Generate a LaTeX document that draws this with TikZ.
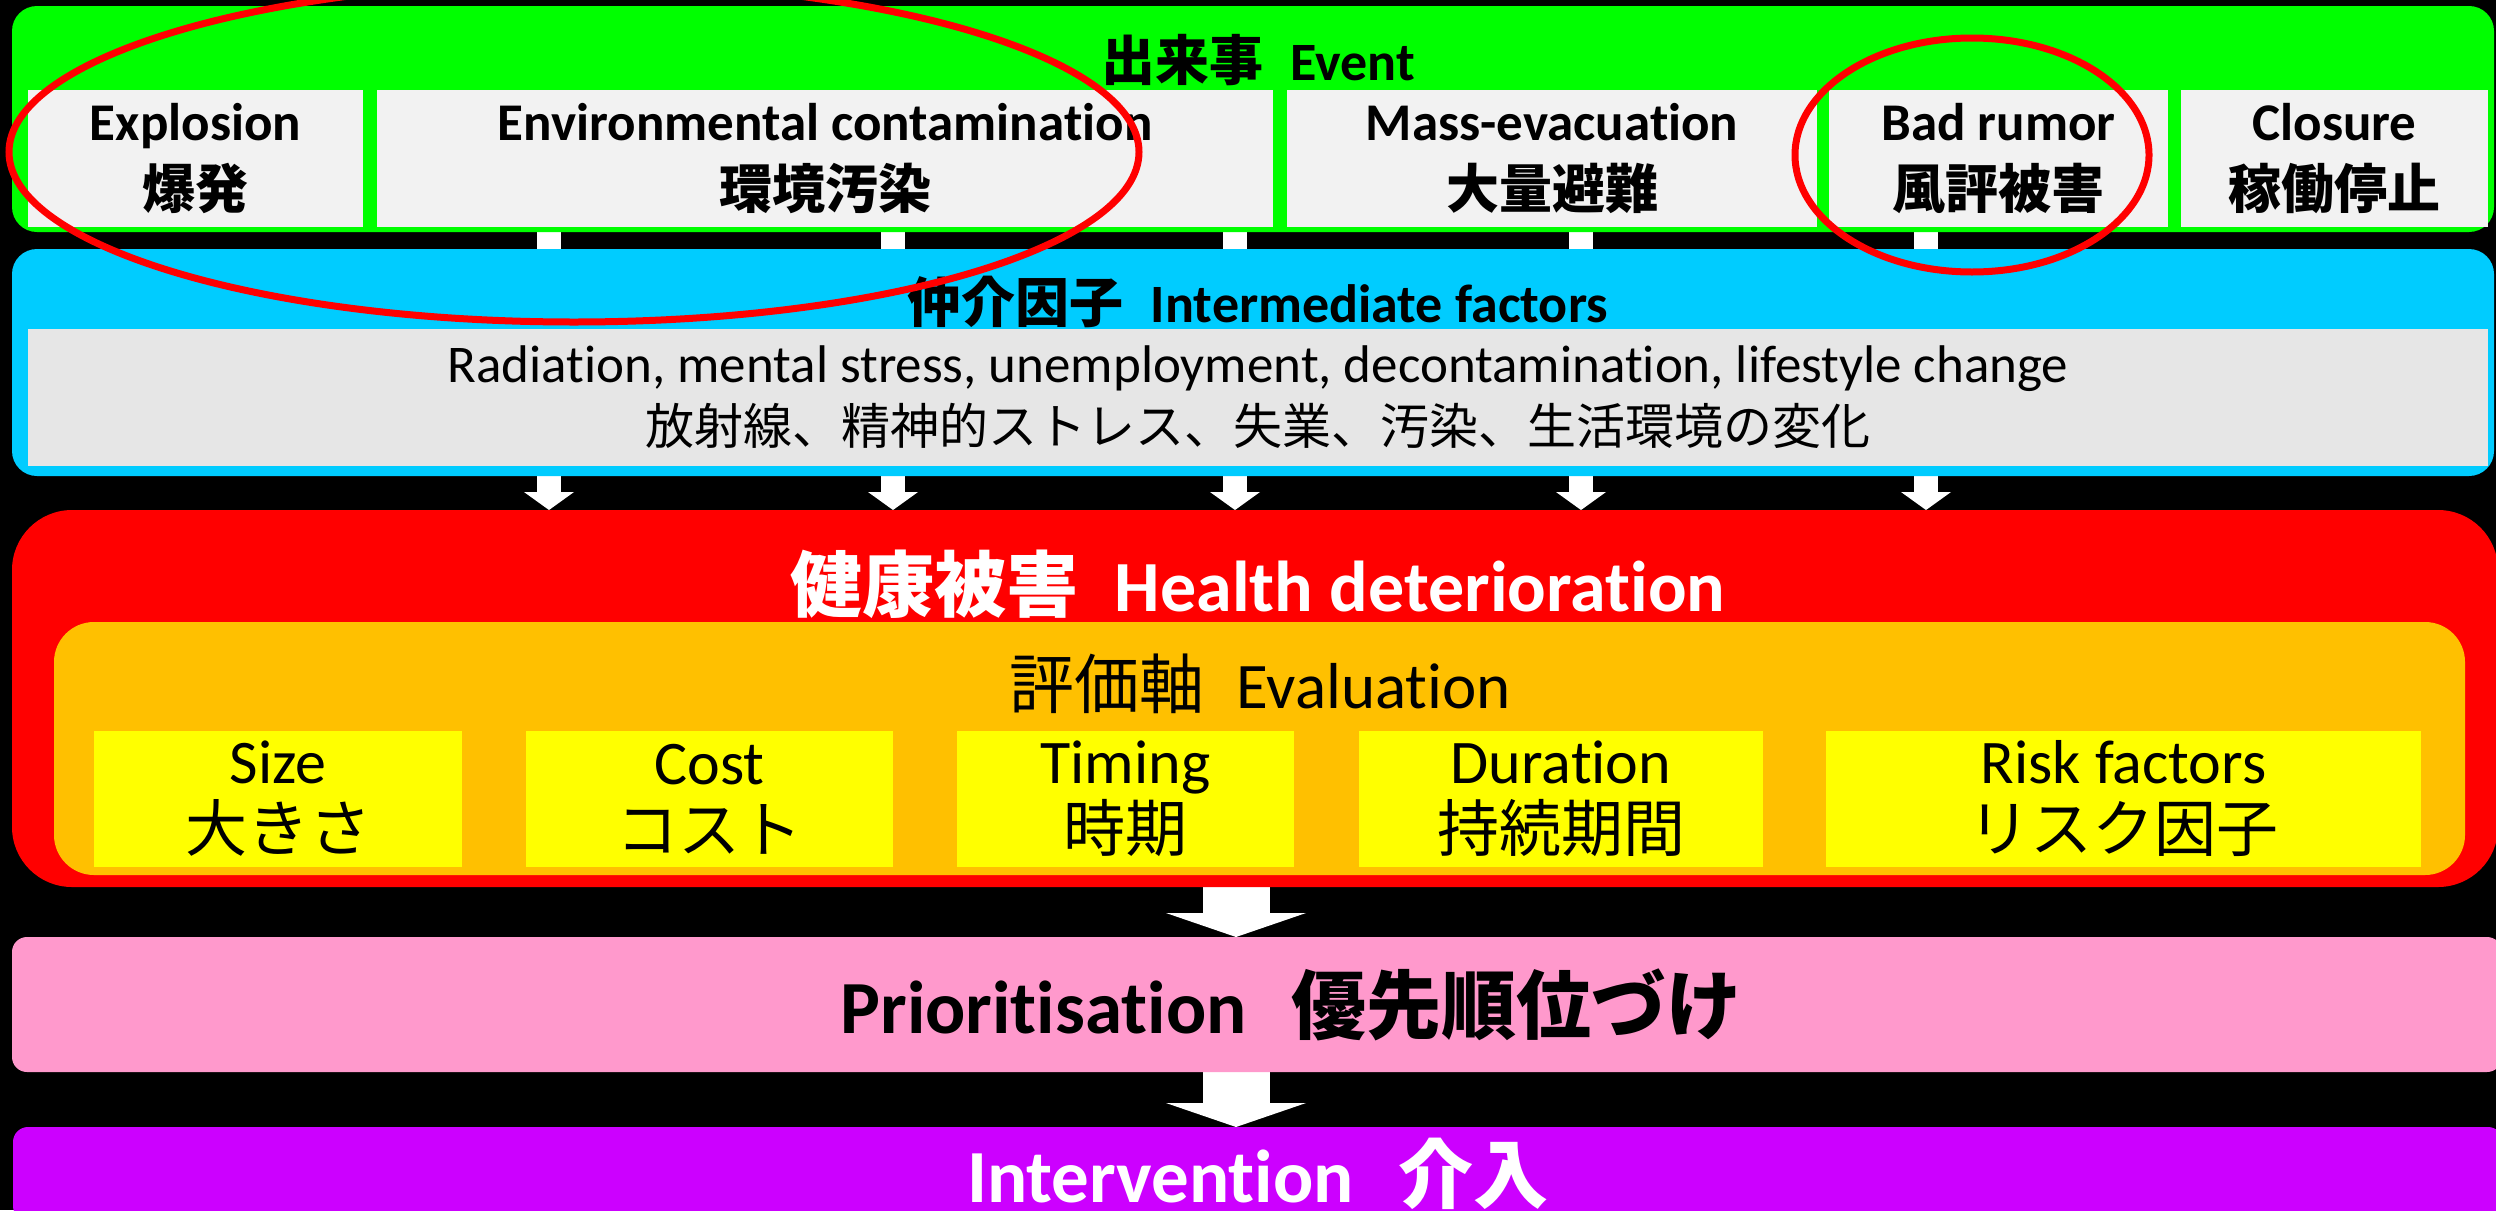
\documentclass[tikz,border=0pt]{standalone}
\usepackage{fontspec}
\setmainfont{Carlito}[Ligatures=NoCommon]
\newfontfamily\cjk{Noto Sans CJK JP}
\usetikzlibrary{arrows.meta}
\pgfdeclarelayer{bottom}
\pgfdeclarelayer{back}
\pgfsetlayers{bottom,back,main}
\definecolor{evgreen}{HTML}{00FF00}
\definecolor{midblue}{HTML}{00CCFF}
\definecolor{evgray}{HTML}{F2F2F2}
\definecolor{midgray}{HTML}{E6E6E6}
\definecolor{hred}{HTML}{FF0000}
\definecolor{evorange}{HTML}{FFC000}
\definecolor{evyellow}{HTML}{FFFF00}
\definecolor{prpink}{HTML}{FF99CC}
\definecolor{intpurple}{HTML}{CC00FF}
\tikzset{
  box/.style={inner sep=0pt, outer sep=0pt, anchor=north west, align=center},
  evbox/.style={box, fill=evgray, font=\fontsize{53}{68}\selectfont\bfseries},
  ybox/.style={box, fill=evyellow, minimum height=136pt, font=\fontsize{62}{68}\selectfont},
  smallarrow/.style={draw=white, line width=24pt, -{Triangle[width=50pt, length=18pt, line width=0pt]}},
  bigarrow/.style={draw=white, line width=67pt, -{Triangle[width=140pt, length=24pt, line width=0pt]}},
  ring/.style={draw=hred, line width=7pt},
}
\begin{document}
\begin{tikzpicture}[x=1pt, y=-1pt]
\useasboundingbox (0,0) rectangle (2496,1210);
\begin{pgfonlayer}{bottom}
\fill[black] (0,0) rectangle (2496,1210);
\end{pgfonlayer}

% Event block
\node[box, fill=evgreen, rounded corners=25pt, minimum width=2482pt, minimum height=226pt] (event) at (12,6) {};
\node[font=\fontsize{54}{58}\selectfont\bfseries] (eventtitle) at (1258,60) {{\cjk 出来事}\hspace{0.5em}Event};
\node[evbox, minimum width=335pt, minimum height=137pt] (ev1) at (28,90) {Explosion\\{\cjk 爆発}};
\node[evbox, minimum width=896pt, minimum height=137pt] (ev2) at (377,90) {Environmental contamination\\{\cjk 環境汚染}};
\node[evbox, minimum width=530pt, minimum height=137pt] (ev3) at (1287,90) {Mass-evacuation\\{\cjk 大量避難}};
\node[evbox, minimum width=339pt, minimum height=137pt] (ev4) at (1829,90) {Bad rumor\\{\cjk 風評被害}};
\node[evbox, minimum width=307pt, minimum height=137pt] (ev5) at (2181,90) {Closure\\{\cjk 稼働停止}};

% Intermediate block
\node[box, fill=midblue, rounded corners=25pt, minimum width=2482pt, minimum height=227pt] (inter) at (12,249) {};
\node[font=\fontsize{54}{58}\selectfont\bfseries] (intertitle) at (1258,302) {{\cjk 仲介因子}\hspace{0.5em}Intermediate factors};
\node[box, fill=midgray, minimum width=2460pt, minimum height=137pt, font=\fontsize{53}{62}\selectfont] (interlist) at (28,329)
  {Radiation, mental stress, unemployment, decontamination, lifestyle change\\{\cjk\fontsize{49}{62}\selectfont 放射線、精神的ストレス、失業、汚染、生活環境の変化}};

% Health block
\node[box, fill=hred, rounded corners=60pt, minimum width=2486pt, minimum height=377pt] (red) at (12,510) {};
\node[text=white, font=\fontsize{72}{76}\selectfont\bfseries] (healthtitle) at (1258,584) {{\cjk 健康被害}\hspace{0.5em}Health deterioration};
\node[box, fill=evorange, rounded corners=40pt, minimum width=2411pt, minimum height=253pt] (evalbox) at (54,622) {};
\node[font=\fontsize{65}{69}\selectfont] (evaltitle) at (1260,684) {{\cjk 評価軸}\hspace{0.5em}Evaluation};
\node[ybox, minimum width=368pt] (y1) at (94,731) {Size\\{\cjk 大きさ}};
\node[ybox, minimum width=367pt] (y2) at (526,731) {Cost\\{\cjk コスト}};
\node[ybox, minimum width=337pt] (y3) at (957,731) {Timing\\{\cjk 時期}};
\node[ybox, minimum width=404pt] (y4) at (1359,731) {Duration\\{\cjk 持続期間}};
\node[ybox, minimum width=595pt] (y5) at (1826,731) {Risk factors\\{\cjk リスク因子}};

% Prioritisation and intervention
\node[box, fill=prpink, rounded corners=15pt, minimum width=2490pt, minimum height=135pt] (prio) at (12,937) {};
\node[font=\fontsize{75}{79}\selectfont\bfseries] (priolabel) at (1291,1005)
  {Prioritisation\hspace{0.6em}{\cjk 優先順位づけ}};
\node[box, fill=intpurple, rounded corners=15pt, minimum width=2490pt, minimum height=94pt, text=white, font=\fontsize{75}{79}\selectfont\bfseries] (interv) at (13,1127)
  {Intervention\hspace{0.6em}{\cjk 介入}};

% arrows
\coordinate (a1) at (549,0);
\coordinate (a2) at (893,0);
\coordinate (a3) at (1235,0);
\coordinate (a4) at (1581,0);
\coordinate (a5) at (1926,0);
\coordinate (ba) at (1236,0);
\begin{pgfonlayer}{back}
\foreach \i in {1,...,5} {\draw[smallarrow] (event.south -| a\i) -- (red.north -| a\i);}
\draw[bigarrow] (red.south -| ba) -- (prio.north -| ba);
\draw[bigarrow] (prio.south -| ba) -- (interv.north -| ba);
\end{pgfonlayer}

% annotation rings
\draw[ring] (574,152) ellipse [x radius=565pt, y radius=170pt];
\draw[ring] (1972,155) ellipse [x radius=177pt, y radius=117pt];
\end{tikzpicture}
\end{document}
